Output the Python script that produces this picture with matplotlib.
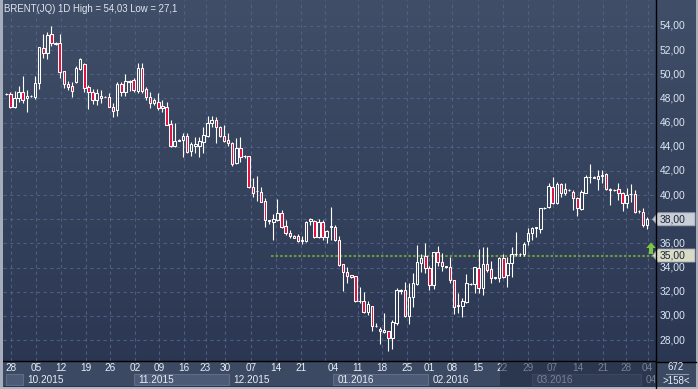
import numpy as np
import matplotlib
matplotlib.use("Agg")
import matplotlib.pyplot as plt
import matplotlib.transforms as mtrans
from matplotlib.patches import Rectangle, Polygon

plt.rcParams['font.family'] = ['Liberation Sans', 'DejaVu Sans']

# ---------------- data ----------------
opens = [48.35, 48.40, 47.27, 48.00, 48.56, 48.00, 48.18, 48.15, 49.25, 52.15,
         51.74, 53.34, 52.60, 52.57, 50.27, 49.20, 49.03, 49.40, 50.40, 50.83,
         48.92, 48.56, 47.87, 48.23, 48.12, 48.10, 47.32, 47.05, 49.20, 48.56,
         49.45, 49.53, 48.65, 50.50, 48.78, 48.10, 47.60, 47.70, 47.38, 47.32,
         45.86, 44.07, 44.50, 44.56, 44.90, 43.68, 44.07, 44.10, 44.42, 44.90,
         46.00, 46.22, 45.60, 44.90, 44.56, 44.30, 42.69, 43.87, 43.25, 43.24,
         40.70, 40.30, 40.26, 39.50, 37.90, 37.80, 37.94, 38.49, 37.44, 36.84,
         36.64, 36.62, 36.25, 36.20, 37.86, 37.86, 36.56, 37.80, 36.56, 37.40,
         37.33, 36.28, 34.30, 33.66, 33.38, 33.30, 31.23, 31.23, 30.35, 30.82,
         29.20, 28.92, 28.70, 28.78, 28.14, 29.39, 32.15, 32.15, 30.00, 31.60,
         32.64, 34.40, 35.00, 33.94, 32.56, 35.26, 34.44, 34.15, 34.03, 32.97,
         30.85, 30.82, 31.18, 32.62, 32.64, 33.94, 32.28, 34.30, 33.86, 33.20,
         33.11, 34.82, 33.39, 34.41, 35.10, 35.10, 35.10, 36.23, 36.89, 37.25,
         37.17, 38.91, 38.99, 40.70, 39.38, 40.92, 40.15, 40.42, 40.29, 39.73,
         38.85, 40.20, 41.47, 41.45, 41.31, 41.62, 41.75, 40.48, 40.42, 40.48,
         40.20, 39.32, 40.07, 40.09, 38.71, 38.63, 37.53]
highs = [48.45, 48.50, 48.62, 49.03, 49.85, 48.70, 48.25, 49.86, 52.30, 53.34,
         53.53, 54.03, 52.65, 53.34, 50.30, 49.47, 49.40, 50.70, 51.32, 50.90,
         49.10, 48.76, 48.76, 48.70, 48.20, 48.43, 47.60, 49.34, 49.40, 50.03,
         49.50, 49.67, 50.96, 50.90, 48.98, 48.56, 48.00, 48.48, 47.87, 47.74,
         46.20, 45.94, 44.65, 45.17, 45.17, 44.42, 44.84, 44.84, 45.67, 46.55,
         46.55, 46.44, 45.72, 45.80, 45.17, 44.42, 44.76, 44.84, 43.30, 43.24,
         41.39, 41.58, 40.70, 39.79, 37.94, 38.44, 39.68, 38.77, 37.94, 37.10,
         36.66, 36.78, 36.62, 37.86, 38.08, 37.94, 38.00, 37.94, 37.10, 38.99,
         37.53, 36.64, 34.30, 34.07, 33.39, 33.30, 32.42, 32.00, 31.26, 30.82,
         29.39, 29.11, 30.27, 28.78, 29.66, 32.28, 32.20, 32.84, 32.70, 33.53,
         35.87, 35.10, 36.00, 34.13, 35.26, 35.79, 35.18, 34.15, 34.90, 32.97,
         31.90, 31.46, 33.47, 32.75, 34.08, 35.54, 35.73, 35.73, 34.57, 33.25,
         34.90, 35.10, 34.90, 35.68, 36.96, 35.20, 36.09, 37.25, 37.39, 37.39,
         38.96, 38.98, 40.98, 41.47, 41.11, 41.03, 41.03, 40.50, 40.42, 39.82,
         40.42, 41.67, 42.58, 41.55, 42.08, 42.08, 41.86, 40.56, 40.50, 40.98,
         40.29, 40.56, 40.92, 40.42, 38.77, 38.91, 38.16]
lows = [48.30, 47.20, 47.25, 47.74, 47.65, 46.90, 48.12, 47.93, 48.78, 51.32,
        51.27, 52.34, 52.45, 49.72, 48.84, 48.70, 48.10, 49.30, 50.36, 48.56,
        47.13, 47.54, 47.46, 47.65, 48.10, 47.30, 46.44, 46.55, 48.20, 48.20,
        48.65, 48.56, 48.48, 48.48, 47.87, 47.24, 47.46, 47.05, 46.90, 45.80,
        43.96, 43.96, 44.45, 43.13, 43.50, 43.27, 43.50, 43.18, 43.50, 44.78,
        45.67, 44.28, 44.78, 44.42, 44.10, 42.40, 42.58, 42.77, 43.10, 40.56,
        39.82, 39.54, 39.46, 37.33, 37.60, 36.28, 37.86, 37.25, 36.70, 36.42,
        36.46, 36.10, 35.93, 36.15, 37.53, 36.48, 36.42, 36.28, 36.06, 36.28,
        36.23, 34.13, 32.09, 32.75, 33.17, 31.15, 31.10, 30.21, 30.08, 28.78,
        29.05, 27.65, 28.56, 27.10, 27.23, 29.25, 31.85, 29.94, 29.33, 30.71,
        32.56, 33.60, 33.53, 32.15, 32.20, 34.10, 33.75, 33.95, 32.70, 30.20,
        30.27, 29.94, 31.10, 32.55, 31.87, 31.87, 31.73, 33.66, 32.70, 33.03,
        32.84, 33.11, 32.37, 33.25, 34.96, 35.00, 34.96, 35.87, 36.28, 36.56,
        36.84, 38.85, 38.91, 39.27, 39.27, 39.87, 40.00, 40.35, 38.77, 38.30,
        38.77, 40.15, 41.03, 41.38, 40.42, 40.98, 40.42, 39.18, 40.35, 39.60,
        38.69, 38.91, 39.46, 38.55, 38.55, 37.39, 37.20]
closes = [48.40, 47.30, 48.00, 48.56, 47.87, 48.20, 48.22, 49.25, 52.23, 51.74,
          53.25, 52.57, 52.52, 50.22, 49.20, 48.98, 48.65, 50.50, 51.24, 48.90,
          48.50, 47.87, 48.43, 48.04, 48.16, 47.32, 46.96, 49.20, 48.56, 49.45,
          49.40, 48.70, 50.50, 48.65, 48.10, 47.60, 47.87, 47.24, 47.18, 45.80,
          44.07, 44.48, 44.60, 44.90, 43.60, 44.20, 44.23, 44.48, 44.97, 46.00,
          46.22, 45.60, 44.90, 44.50, 44.30, 42.58, 43.87, 43.18, 43.20, 40.70,
          40.20, 40.35, 39.46, 37.94, 37.88, 37.99, 38.49, 37.39, 36.84, 36.64,
          36.48, 36.20, 36.20, 37.80, 38.00, 36.56, 37.75, 36.56, 37.03, 37.39,
          36.28, 34.20, 33.66, 33.33, 33.25, 31.23, 31.20, 30.35, 30.99, 29.17,
          29.15, 28.72, 28.83, 28.14, 29.52, 32.15, 32.10, 30.00, 31.60, 32.70,
          34.44, 34.77, 33.94, 32.56, 35.26, 34.44, 34.13, 34.03, 32.97, 30.77,
          30.90, 31.26, 32.70, 32.66, 34.02, 32.28, 34.30, 33.80, 33.17, 33.11,
          34.82, 33.25, 34.35, 35.10, 35.12, 35.12, 35.93, 36.89, 37.25, 37.39,
          38.91, 38.93, 40.75, 39.38, 40.92, 40.15, 40.48, 40.44, 39.73, 38.91,
          40.29, 41.53, 41.49, 41.47, 41.58, 41.64, 40.48, 40.46, 40.44, 40.15,
          39.32, 40.01, 40.12, 38.60, 38.69, 37.53, 38.02]

price_levels = [28, 30, 32, 34, 36, 38, 40, 42, 44, 46, 48, 50, 52, 54]
week_labels = ['28', '05', '12', '19', '26', '02', '09', '16', '23', '30', '07', '14', '21',
               '04', '11', '18', '25', '01', '08', '15', '22', '29', '07', '14', '21', '28', '04']
week_pos = [1.1, 7.2, 13.2, 19.4, 25.2, 31.3, 37.2, 43.3, 48.5, 53.3, 59.5, 65.6, 71.7,
            79.7, 85.6, 91.5, 97.6, 102.9, 108.6, 114.8, 120.8, 126.9, 133.0, 139.1, 145.2, 150.8, 156.1]
grid_pos = [1.1, 7.2, 13.2, 19.4, 25.2, 31.3, 37.2, 43.3, 48.5, 53.3, 59.5, 65.6, 71.7,
            77.5, 85.6, 91.5, 97.6, 102.9, 108.6, 114.8, 120.8, 126.9, 133.0, 139.1, 145.2, 150.8, 156.1]
month_labels = ['', '10.2015', '11.2015', '12.2015', '01.2016', '02.2016', '03.2016', '04.']
month_start = [-0.07, 4.07, 31.1, 54.2, 79.5, 102.7, 128.0, 154.5]
last_price = 38.00
level_line = 35.00
level_line_start = 64.4

o = np.array(opens); h = np.array(highs); l = np.array(lows); c = np.array(closes)
idx = np.arange(len(o))

W, H = 698, 389
fig = plt.figure(figsize=(W / 100, H / 100), dpi=100)

# background gradient
bg = fig.add_axes([0, 0, 1, 1], zorder=0)
bg.axis('off')
t = np.linspace(0, 1, 256)[:, None, None]
top = np.array([64, 78, 104]) / 255
bot = np.array([42, 54, 81]) / 255
bg.imshow(top + (bot - top) * t, aspect='auto', extent=[0, 1, 0, 1])

XMIN, XMAX = -0.803, 157.91
YMIN, YMAX = 26.268, 56.152

ax = fig.add_axes([3 / W, (H - 361) / H, 652 / W, 361 / H], zorder=1)
ax.set_facecolor('none')
ax.set_xlim(XMIN, XMAX)
ax.set_ylim(YMIN, YMAX)
for s in ax.spines.values():
    s.set_visible(False)
ax.set_yticks(price_levels)
ax.set_xticks(grid_pos)
ax.tick_params(length=0, labelleft=False, labelbottom=False)
ax.grid(True, color='#57668a', lw=0.8, ls=(0, (3, 3)), alpha=0.8)
ax.set_axisbelow(True)

# level line
ax.hlines(level_line, level_line_start, XMAX, colors='#6c9a40', lw=1.5,
          linestyles=(0, (1.2, 1.0)), zorder=2)

# candles
up = c >= o
blo = np.minimum(o, c)
bhi = np.maximum(o, c)
ax.vlines(idx, bhi, h, color='white', lw=0.8, zorder=3)
ax.vlines(idx, l, blo, color='white', lw=0.8, zorder=3)
ax.bar(idx, np.maximum(bhi - blo, 0.03), bottom=blo, width=0.6,
       color=['none' if u else '#e01040' for u in up],
       edgecolor='white', linewidth=0.75, zorder=4)

# right axis labels
tr = mtrans.blended_transform_factory(ax.transAxes, ax.transData)
fx = lambda px: (px - 3) / 652.0
for v in price_levels:
    ax.text(fx(659.5), v, f"{v},00", transform=tr, va='center', ha='left',
            fontsize=7.4, color='#dde6f3', clip_on=False)

def price_box(val, fc):
    d = 0.54
    pts = [(fx(652.5), val), (fx(658), val + d), (fx(695), val + d),
           (fx(695), val - d), (fx(658), val - d)]
    ax.add_patch(Polygon(pts, closed=True, transform=tr, facecolor=fc,
                         edgecolor='#9aa2b0', lw=0.6, clip_on=False, zorder=6))
    ax.text(fx(659.5), val, f"{val:.2f}".replace('.', ','), transform=tr, va='center',
            ha='left', fontsize=7.4, color='#1c2538', clip_on=False, zorder=7)

price_box(last_price, '#c9ced8')
price_box(level_line, '#dadbc6')

# bottom axis
axb = fig.add_axes([3 / W, (H - 386) / H, 652 / W, 25 / H], zorder=1)
axb.set_facecolor('#3b4963')
axb.set_xlim(XMIN, XMAX)
axb.set_ylim(0, 25)
axb.set_xticks([]); axb.set_yticks([])
for k, s in axb.spines.items():
    s.set_visible(k == 'top')
axb.spines['top'].set_color('black')
axb.spines['top'].set_linewidth(1.0)

ends = month_start[1:] + [XMAX + 1]
for j, (m, s0, e0) in enumerate(zip(month_labels, month_start, ends)):
    if j % 2 == 0:
        axb.add_patch(Rectangle((s0, 0.6), e0 - s0, 11.0, facecolor='#4c5a75',
                                edgecolor='#5f6d88', lw=0.8, zorder=1))
    if m:
        axb.text(s0 + 1.1, 6.0, m, ha='left', va='center', fontsize=7.2,
                 color='#e8eef8', clip_on=True, zorder=3)
for p, lab in zip(week_pos, week_labels):
    axb.text(p, 18.4, lab, ha='center', va='center', fontsize=7.2,
             color='#e8eef8', zorder=3)
axb.add_patch(Rectangle((120.2, 0), XMAX - 120.2, 24.5, facecolor='#1f2840',
                        alpha=0.55, lw=0, zorder=5))

# overlay (frame, title, arrow, corner box)
axo = fig.add_axes([0, 0, 1, 1], zorder=5)
axo.set_xlim(0, W); axo.set_ylim(H, 0)
axo.axis('off')
axo.add_patch(Rectangle((656, 362), 40, 24.5, facecolor='#3b4963', lw=0))
axo.text(676, 367.5, '672', ha='center', va='center', fontsize=7, color='#e8eef8')
axo.plot([666, 688], [373.5, 373.5], color='#8a96aa', lw=0.8)
axo.text(676, 380.5, '>158<', ha='center', va='center', fontsize=7, color='#e8eef8')
axo.plot([655.5, 655.5], [0, H], color='black', lw=1.0)
axo.plot([655.5, 696], [361.5, 361.5], color='black', lw=1.0)
axo.add_patch(Rectangle((0, 0), 2.5, H, facecolor='#a6aebb', lw=0))
axo.add_patch(Rectangle((696, 0), 2, H, facecolor='#a6aebb', lw=0))
axo.add_patch(Rectangle((0, 386.5), W, 2.5, facecolor='#b0b7c3', lw=0))
arrow = [(651, 242.5), (655.8, 248), (653, 248), (653, 254), (649, 254), (649, 248), (646.2, 248)]
axo.add_patch(Polygon(arrow, closed=True, facecolor='#7cc443', lw=0))
hi_txt = f"{h.max():.2f}".replace('.', ',')
lo_txt = f"{l.min():g}".replace('.', ',')
axo.text(4, 9, f"BRENT(JQ) 1D High = {hi_txt} Low = {lo_txt}", ha='left', va='center',
         fontsize=6.9, color='#dfe6f0')

fig.savefig('out.png', dpi=100)
